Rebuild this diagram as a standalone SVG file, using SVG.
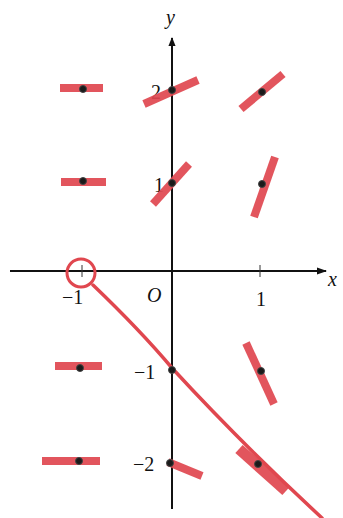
<svg xmlns="http://www.w3.org/2000/svg" width="343" height="518" viewBox="0 0 343 518">
<style>
.ax{stroke:#111;stroke-width:2;fill:none}
.tk{stroke:#333;stroke-width:1}
.seg{stroke:#e0474f;stroke-width:8;stroke-linecap:butt;fill:none;opacity:0.92}
.dot{fill:#1a1a1a;stroke:#444;stroke-width:1}
.lbl{font-family:"Liberation Serif",serif;font-size:20px;fill:#111}
.it{font-style:italic}
.red{stroke:#e0474f;fill:none;stroke-linecap:round}
</style>
<defs>
<marker id="ah" viewBox="0 0 10 10" refX="9" refY="5" markerWidth="9" markerHeight="9" orient="auto" markerUnits="userSpaceOnUse">
<path d="M0,1 L10,5 L0,9 Z" fill="#111"/>
</marker>
<marker id="ah2" viewBox="0 0 10 10" refX="9" refY="5" markerWidth="16" markerHeight="10" orient="auto" markerUnits="userSpaceOnUse">
<path d="M0,1.5 L10,5 L0,8.5 Z" fill="#111"/>
</marker>
</defs>
<g id="connectors">
<line class="ax" x1="10" y1="271" x2="326" y2="271" marker-end="url(#ah2)"/>
<line class="ax" x1="172" y1="509" x2="172" y2="38" marker-end="url(#ah)"/>
<line class="tk" x1="82" y1="265" x2="82" y2="277"/>
<line class="tk" x1="260" y1="265" x2="260" y2="277"/>
</g>
<g id="labels">
<text class="lbl it" x="166" y="24">y</text>
<text class="lbl it" x="328" y="286">x</text>
<text class="lbl" x="62" y="304">−1</text>
<text class="lbl it" x="147" y="302">O</text>
<text class="lbl" x="256" y="306">1</text>
<text class="lbl" x="151" y="99">2</text>
<text class="lbl" x="154" y="192">1</text>
<text class="lbl" x="134" y="379">−1</text>
<text class="lbl" x="133" y="471">−2</text>
</g>
<g id="segments">
<line class="seg" x1="60" y1="88" x2="103" y2="88"/>
<line class="seg" x1="144" y1="104" x2="198" y2="80"/>
<line class="seg" x1="241" y1="109" x2="283" y2="74"/>
<line class="seg" x1="61" y1="182" x2="106" y2="182"/>
<line class="seg" x1="153" y1="204" x2="189" y2="164"/>
<line class="seg" x1="254" y1="217" x2="275" y2="157"/>
<line class="seg" x1="55" y1="366" x2="102" y2="366"/>
<line class="seg" x1="246" y1="343" x2="274" y2="404"/>
<line class="seg" x1="42" y1="461" x2="100" y2="461"/>
<line class="seg" x1="168" y1="462" x2="202" y2="476"/>
<line class="seg" x1="239" y1="449" x2="286" y2="491" style="stroke-width:11"/>
</g>
<g id="curve">
<circle class="red" cx="81" cy="273" r="14" style="stroke-width:3"/>
<path class="red" d="M93 285 Q140 330 172 368 Q240 442 322 518" style="stroke-width:3.5"/>
</g>
<g id="dots">
<circle class="dot" cx="83" cy="89" r="3.5"/>
<circle class="dot" cx="172" cy="90" r="3.5"/>
<circle class="dot" cx="262" cy="92" r="3.5"/>
<circle class="dot" cx="83" cy="181" r="3.5"/>
<circle class="dot" cx="172" cy="183" r="3.5"/>
<circle class="dot" cx="262" cy="184" r="3.5"/>
<circle class="dot" cx="80" cy="368" r="3.5"/>
<circle class="dot" cx="172" cy="370" r="3.5"/>
<circle class="dot" cx="261" cy="371" r="3.5"/>
<circle class="dot" cx="79" cy="461" r="3.5"/>
<circle class="dot" cx="170" cy="463" r="3.5"/>
<circle class="dot" cx="258" cy="464" r="3.5"/>
</g>
</svg>
